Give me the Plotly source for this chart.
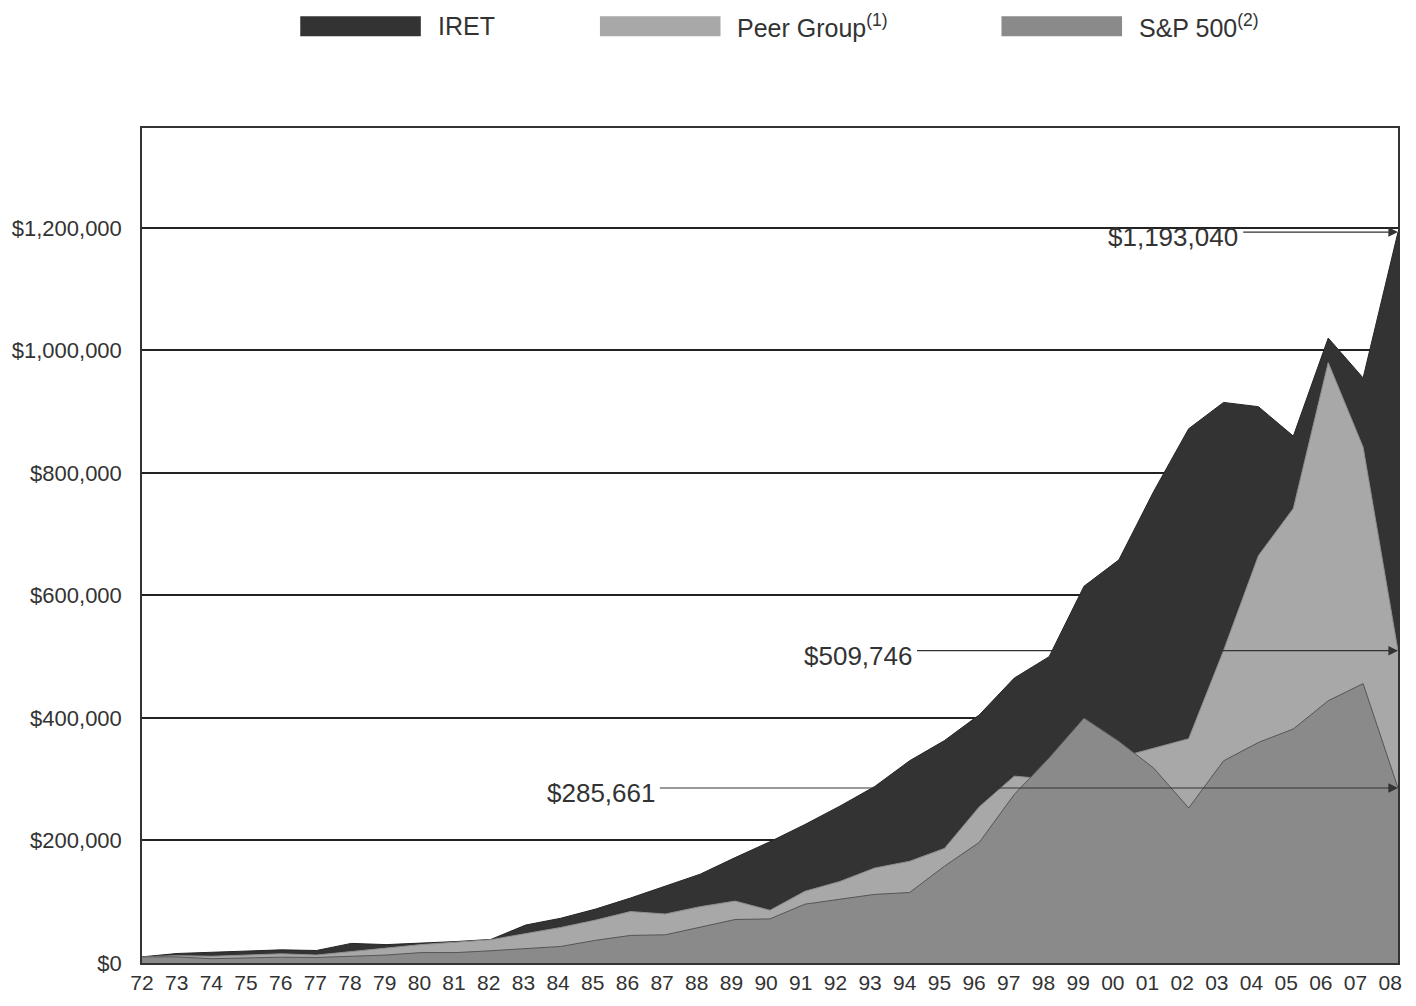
import plotly.graph_objects as go

years = list(range(1972, 2009))
tick_labels = [f"{y % 100:02d}" for y in years]

iret = [10000, 15500, 17500, 19400, 21500, 20400, 32000, 30000, 32000, 35000,
        38500, 62000, 73000, 88000, 106000, 126000, 145000, 172000, 198000, 226000,
        256000, 288000, 330000, 363000, 405000, 465000, 500000, 615000, 658000, 770000,
        872000, 915000, 908000, 860000, 1020000, 955000, 1193040]

peer = [10000, 12000, 11000, 13000, 15000, 13000, 19000, 25000, 30000, 34000,
        38000, 48000, 58000, 70000, 84000, 80000, 92000, 101000, 86000, 117000,
        133000, 155000, 166000, 187000, 255000, 305000, 300000, 320000, 335000, 350000,
        366000, 510000, 665000, 742000, 980000, 842000, 509746]

sp500 = [10000, 10000, 7000, 8000, 9500, 9000, 11000, 13000, 17000, 17000,
         20000, 24000, 27000, 37000, 45000, 46000, 59000, 71000, 72000, 96000,
         104000, 112000, 115000, 158000, 197000, 275000, 335000, 400000, 362000, 318000,
         253000, 330000, 360000, 382000, 428000, 456000, 285661]

y_ticks = [0, 200000, 400000, 600000, 800000, 1000000, 1200000]
y_tick_labels = ["$0", "$200,000", "$400,000", "$600,000", "$800,000", "$1,000,000", "$1,200,000"]

series_names = ["IRET", "Peer Group<sup>(1)</sup>", "S&P 500<sup>(2)</sup>"]
fill_colors = ["#333333", "#a8a8a8", "#8a8a8a"]
line_colors = ["#262626", "#8e8e8e", "#555555"]

end_labels = ["$1,193,040", "$509,746", "$285,661"]
end_values = [iret[-1], peer[-1], sp500[-1]]
arrow_starts = [2003.52, 1994.17, 1986.80]

font_main = "Liberation Sans, Arial, sans-serif"

fig = go.Figure()
for vals, fc, lc in zip([iret, peer, sp500], fill_colors, line_colors):
    fig.add_trace(go.Scatter(
        x=years, y=vals, mode="lines", fill="tozeroy",
        fillcolor=fc, line=dict(color=lc, width=1),
        showlegend=False, hoverinfo="x+y"))

annotations = []
for lab, val, xs in zip(end_labels, end_values, arrow_starts):
    annotations.append(dict(
        x=2008, y=val, ax=xs, ay=val, xref="x", yref="y", axref="x", ayref="y",
        text="", showarrow=True, arrowhead=2, arrowsize=1.6, arrowwidth=1.2,
        arrowcolor="#333333"))
    annotations.append(dict(
        x=xs - 0.05, y=val, xref="x", yref="y", text=lab, showarrow=False,
        xanchor="right", yanchor="middle", yshift=-5,
        font=dict(family=font_main, size=26, color="#333333")))

# legend drawn as swatches + labels above the plot
leg_x0 = [0.1260, 0.3646, 0.6843]
leg_w = 0.0960
leg_text_x = [0.2339, 0.4724, 0.7921]
shapes = []
for x0, fc in zip(leg_x0, fill_colors):
    shapes.append(dict(type="rect", xref="paper", yref="paper",
                       x0=x0, x1=x0 + leg_w, y0=1.110, y1=1.1337,
                       fillcolor=fc, line=dict(width=0)))
for tx, name in zip(leg_text_x, series_names):
    annotations.append(dict(
        x=tx, y=1.1219, xref="paper", yref="paper", text=name, showarrow=False,
        xanchor="left", yanchor="middle",
        font=dict(family=font_main, size=25, color="#333333")))

# tick label positions drift slightly left of the data grid in the original
tick_pos = [y - (0.22 * i) / 35.28 for i, y in enumerate(years)]

fig.update_layout(
    width=1416, height=1006,
    margin=dict(l=128, r=18, t=128, b=33),
    paper_bgcolor="white", plot_bgcolor="white",
    shapes=shapes, annotations=annotations,
    showlegend=False,
)
fig.update_xaxes(
    range=[1972, 2008], tickvals=tick_pos, ticktext=tick_labels,
    showgrid=False, zeroline=False, ticks="",
    showline=True, linecolor="#333333", linewidth=1.5, mirror=True,
    ticklabeloverflow="allow",
    tickfont=dict(family=font_main, size=21, color="#333333"),
)
fig.update_yaxes(
    range=[0, 1362900], tickvals=y_ticks, ticktext=y_tick_labels,
    showgrid=True, gridcolor="#222222", gridwidth=1.5, zeroline=False, ticks="",
    showline=True, linecolor="#333333", linewidth=1.5, mirror=True,
    ticklabelstandoff=14,
    tickfont=dict(family=font_main, size=22, color="#333333"),
)

fig.write_html(
    "out.html",
    config={"displayModeBar": False},
    post_script="document.body.style.margin='0';document.body.style.overflow='hidden';",
)
